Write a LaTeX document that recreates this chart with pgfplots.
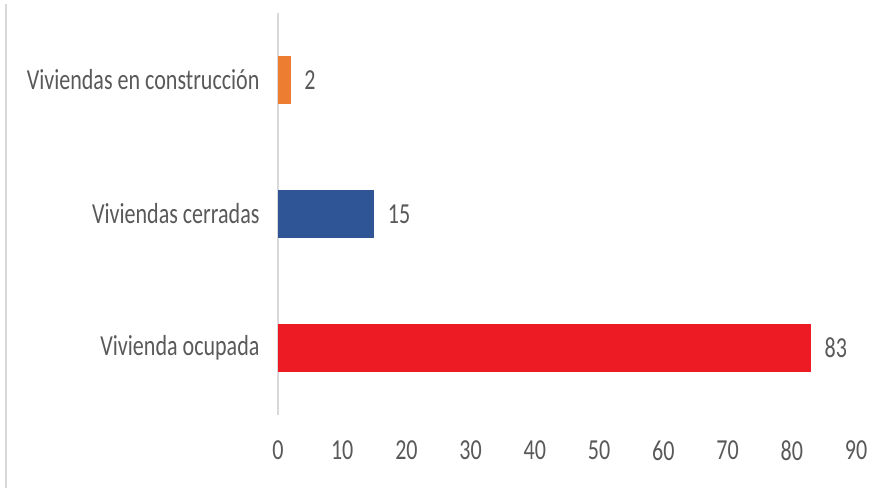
\documentclass[border=0pt]{standalone}
\usepackage{fontspec}
\setmainfont{Carlito}[FakeStretch=0.76]
\usepackage{pgfplots}
\pgfplotsset{compat=1.18}
\definecolor{cOr}{HTML}{ED7D31}
\definecolor{cBl}{HTML}{2F5597}
\definecolor{cRd}{HTML}{ED1C24}
\definecolor{cTx}{HTML}{595959}
\definecolor{cAx}{HTML}{D9D9D9}
\begin{document}
\begin{tikzpicture}[x=1pt,y=1pt]
\path[use as bounding box] (0,0) rectangle (891,488);
\draw[cAx, line width=2pt] (6,0) -- (6,484);
\begin{axis}[at={(278pt,73pt)}, anchor=south west, scale only axis,
  width=578pt, height=402pt,
  xmin=0, xmax=90, ymin=-0.5, ymax=2.5,
  xtick={0,10,...,90}, ytick={0,1,2},
  yticklabels={Vivienda ocupada, Viviendas cerradas, Viviendas en construcción},
  axis x line*=bottom, axis y line*=left,
  x axis line style={draw=none},
  y axis line style={cAx, line width=2pt},
  major tick length=0pt,
  tick label style={font=\fontsize{29}{32}\selectfont, text=cTx},
  /pgf/number format/assume math mode=true,
  xticklabel style={yshift=-22pt},
  yticklabel style={xshift=-15pt},
  xbar, bar width=48pt, bar shift=0pt,
  nodes near coords,
  every node near coord/.append style={font=\fontsize{29}{32}\selectfont, text=cTx, anchor=west, xshift=10pt},
  clip=false]
\addplot[fill=cRd, draw=none] coordinates {(83,0)};
\addplot[fill=cBl, draw=none] coordinates {(15,1)};
\addplot[fill=cOr, draw=none] coordinates {(2,2)};
\end{axis}
\end{tikzpicture}
\end{document}
